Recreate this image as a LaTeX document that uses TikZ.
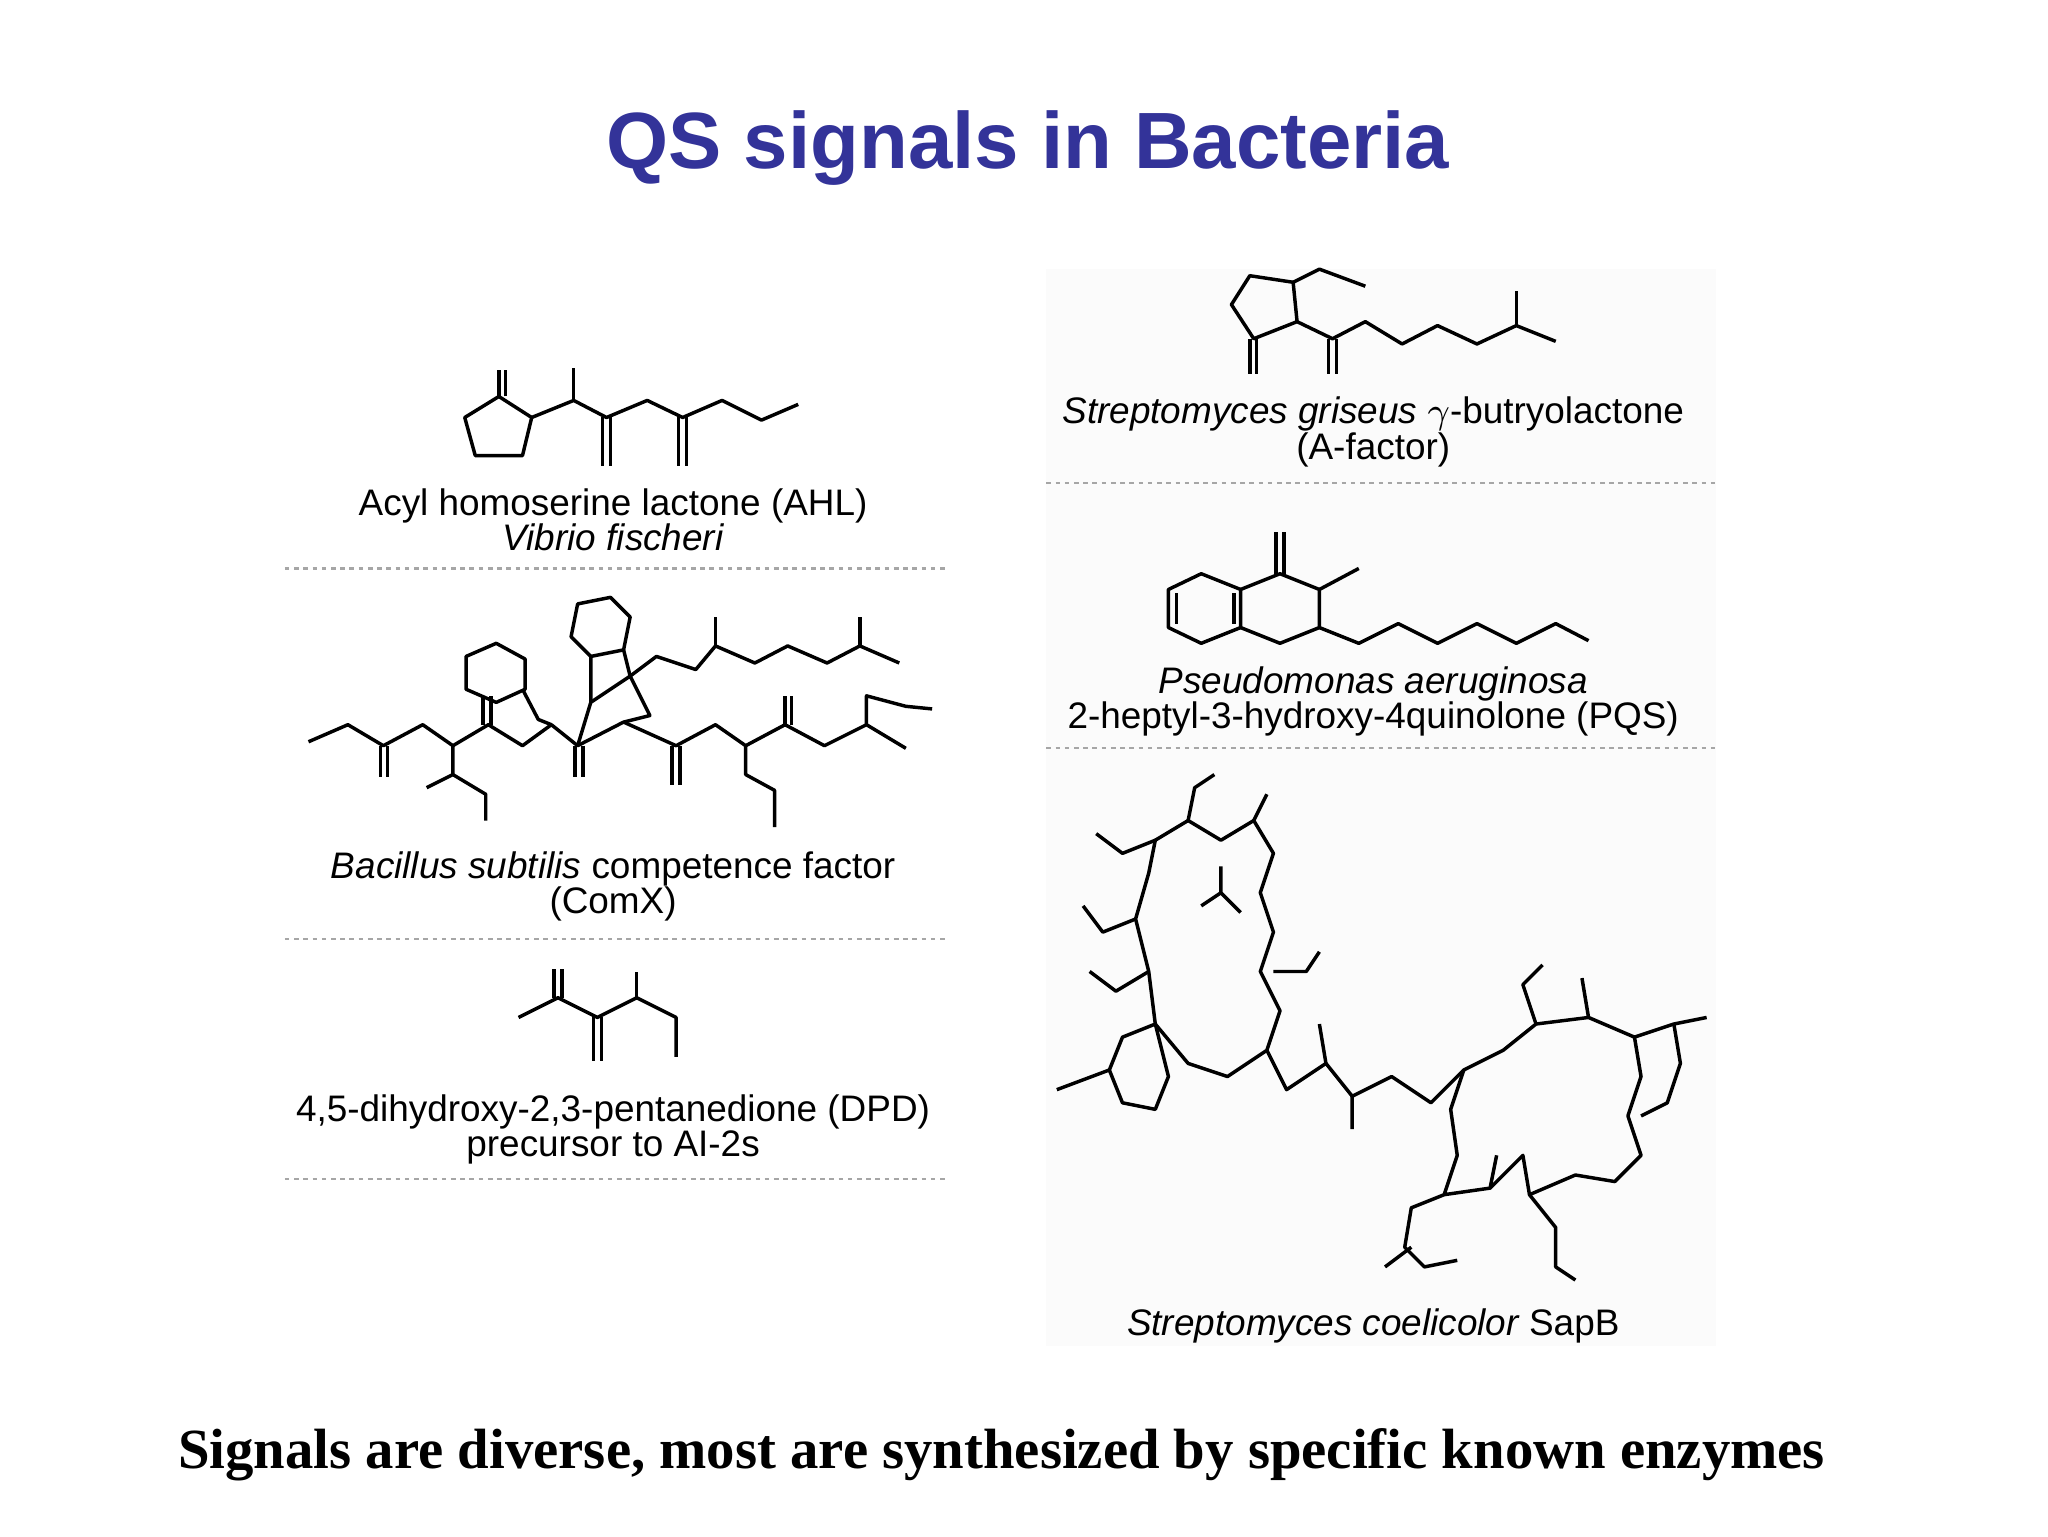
\documentclass[tikz,border=0pt]{standalone}
\usepackage{fontspec}
\setmainfont{Liberation Serif}
\setsansfont{Liberation Sans}
\definecolor{titleblue}{RGB}{51,51,153}
\begin{document}
\begin{tikzpicture}[x=0.1mm,y=-0.1mm,
  bond/.style={line width=0.75pt,line join=round},
  sep/.style={gray!70,line width=0.5pt,dash pattern=on 1pt off 1pt},
  lab/.style={font=\sffamily\fontsize{8}{7.6}\selectfont,align=center,inner sep=0pt}]
\useasboundingbox (0,0) rectangle (1560,1170);
\fill[white] (0,0) rectangle (1560,1170);
\fill[gray!3] (797,205) rectangle (1307,1025);
\node[font=\sffamily\bfseries\fontsize{17.3}{20}\selectfont,text=titleblue] (title) at (783,113) {QS signals in Bacteria};
\node[font=\rmfamily\bfseries\fontsize{12.3}{14}\selectfont] (foot) at (763,1108) {Signals are diverse, most are synthesized by specific known enzymes};
% separators
\draw[sep] (217,433) -- (722,433);
\draw[sep] (217,715) -- (722,715);
\draw[sep] (217,898) -- (722,898);
\draw[sep] (797,368) -- (1307,368);
\draw[sep] (797,570) -- (1307,570);
% labels
\node[lab] (l1) at (467,396) {Acyl homoserine lactone (AHL)\\\itshape Vibrio fischeri};
\node[lab] (l2) at (467,675) {\itshape Bacillus subtilis\upshape{} competence factor\\(ComX)};
\node[lab] (l3) at (467,860) {4,5-dihydroxy-2,3-pentanedione (DPD)\\precursor to AI-2s};
\node[lab] (r1) at (1046,329) {\itshape Streptomyces griseus\upshape{} $\gamma$-butryolactone\\(A-factor)};
\node[lab] (r2) at (1046,534) {\itshape Pseudomonas aeruginosa\\2-heptyl-3-hydroxy-4quinolone (PQS)};
\node[lab] (r3) at (1046,1010) {\itshape Streptomyces coelicolor\upshape{} SapB};
% AHL
\draw[bond] (380,302)--(405,318)--(398,347)--(362,347)--(354,318)--cycle;
\draw[bond] (380,302)--(380,282) (385,302)--(385,282);
\draw[bond] (405,318)--(437,305)--(462,318)--(493,305)--(520,318)--(550,305)--(580,320)--(608,308);
\draw[bond] (437,305)--(437,280);
\draw[bond] (459,318)--(459,355) (465,318)--(465,355);
\draw[bond] (517,318)--(517,355) (523,318)--(523,355);
% A-factor
\draw[bond] (952,210)--(985,215)--(988,245)--(955,258)--(938,232)--cycle;
\draw[bond] (952,258)--(952,285) (957,258)--(957,285);
\draw[bond] (985,215)--(1005,205)--(1040,218);
\draw[bond] (988,245)--(1015,258)--(1040,245)--(1068,262)--(1095,248)--(1125,262)--(1155,248)--(1185,260);
\draw[bond] (1155,248)--(1155,222);
\draw[bond] (1012,258)--(1012,285) (1018,258)--(1018,285);
% PQS
\draw[bond] (915,437)--(945,449)--(945,478)--(915,490)--(890,478)--(890,449)--cycle;
\draw[bond] (945,449)--(975,437)--(1005,449)--(1005,478)--(975,490)--(945,478);
\draw[bond] (896,452)--(896,475) (940,452)--(940,475);
\draw[bond] (972,437)--(972,405) (978,437)--(978,405);
\draw[bond] (1005,449)--(1035,433);
\draw[bond] (1005,478)--(1035,490)--(1065,475)--(1095,490)--(1125,475)--(1155,490)--(1185,475)--(1210,488);
% ComX
\draw[bond] (235,565)--(265,552)--(292,568)--(322,552)--(345,568)--(372,552)--(398,568)--(420,552)--(440,568)--(475,550)--(515,568)--(545,552)--(568,568)--(598,552)--(628,568)--(660,552)--(690,570);
\draw[bond] (290,568)--(290,592) (295,568)--(295,592);
\draw[bond] (345,568)--(345,590)--(325,600) (345,590)--(370,605)--(370,625);
\draw[bond] (368,552)--(368,530) (374,552)--(374,530);
\draw[bond] (355,500)--(378,490)--(400,502)--(400,525)--(378,535)--(355,525)--cycle;
\draw[bond] (398,525)--(410,548)--(420,552);
\draw[bond] (438,568)--(438,592) (444,568)--(444,592);
\draw[bond] (440,568)--(450,535)--(480,515)--(495,545)--(475,550);
\draw[bond] (440,460)--(465,455)--(480,470)--(475,495)--(450,500)--(435,485)--cycle;
\draw[bond] (475,495)--(480,515) (450,500)--(450,535);
\draw[bond] (480,515)--(500,500)--(530,510)--(545,492)--(575,505)--(600,492)--(630,505)--(655,492)--(685,505);
\draw[bond] (545,492)--(545,470) (655,492)--(655,470);
\draw[bond] (512,568)--(512,598) (518,568)--(518,598);
\draw[bond] (568,568)--(568,590)--(590,602)--(590,630);
\draw[bond] (598,552)--(598,530) (603,552)--(603,530);
\draw[bond] (660,552)--(660,530)--(690,538)--(710,540);
% DPD
\draw[bond] (395,775)--(425,760)--(455,775)--(485,760)--(515,775)--(515,805);
\draw[bond] (422,760)--(422,738) (428,760)--(428,738);
\draw[bond] (452,775)--(452,808) (458,775)--(458,808);
\draw[bond] (485,760)--(485,740);
% SapB (schematic)
\draw[bond] (880,640)--(905,625)--(930,640)--(955,625)--(970,650)--(960,680)--(970,710)--(960,740)--(975,770)--(965,800)--(935,820)--(905,810)--(880,780)--(875,740)--(865,700)--(875,665)--cycle;
\draw[bond] (905,625)--(910,600)--(925,590) (955,625)--(965,605);
\draw[bond] (880,640)--(855,650)--(835,635) (865,700)--(840,710)--(825,690) (875,740)--(850,755)--(830,740);
\draw[bond] (915,690)--(930,680)--(945,695) (930,680)--(930,660);
\draw[bond] (970,740)--(995,740)--(1005,725);
\draw[bond] (880,780)--(855,790)--(845,815)--(855,840)--(880,845)--(890,820)--cycle (845,815)--(805,830);
\draw[bond] (965,800)--(980,830)--(1010,810)--(1030,835)--(1060,820)--(1090,840)--(1115,815)--(1145,800)--(1170,780)--(1210,775)--(1245,790)--(1275,780)--(1300,775);
\draw[bond] (1010,810)--(1005,780) (1030,835)--(1030,860) (1170,780)--(1160,750)--(1175,735) (1210,775)--(1205,745);
\draw[bond] (1115,815)--(1105,845)--(1110,880)--(1100,910)--(1075,920)--(1070,950)--(1085,965)--(1110,960) (1100,910)--(1135,905)--(1160,880)--(1165,910)--(1185,935)--(1185,965)--(1200,975);
\draw[bond] (1245,790)--(1250,820)--(1240,850)--(1250,880)--(1230,900)--(1200,895)--(1165,910);
\draw[bond] (1275,780)--(1280,810)--(1270,840)--(1250,850);
\draw[bond] (1075,950)--(1055,965) (1135,905)--(1140,880);
\end{tikzpicture}
\end{document}
